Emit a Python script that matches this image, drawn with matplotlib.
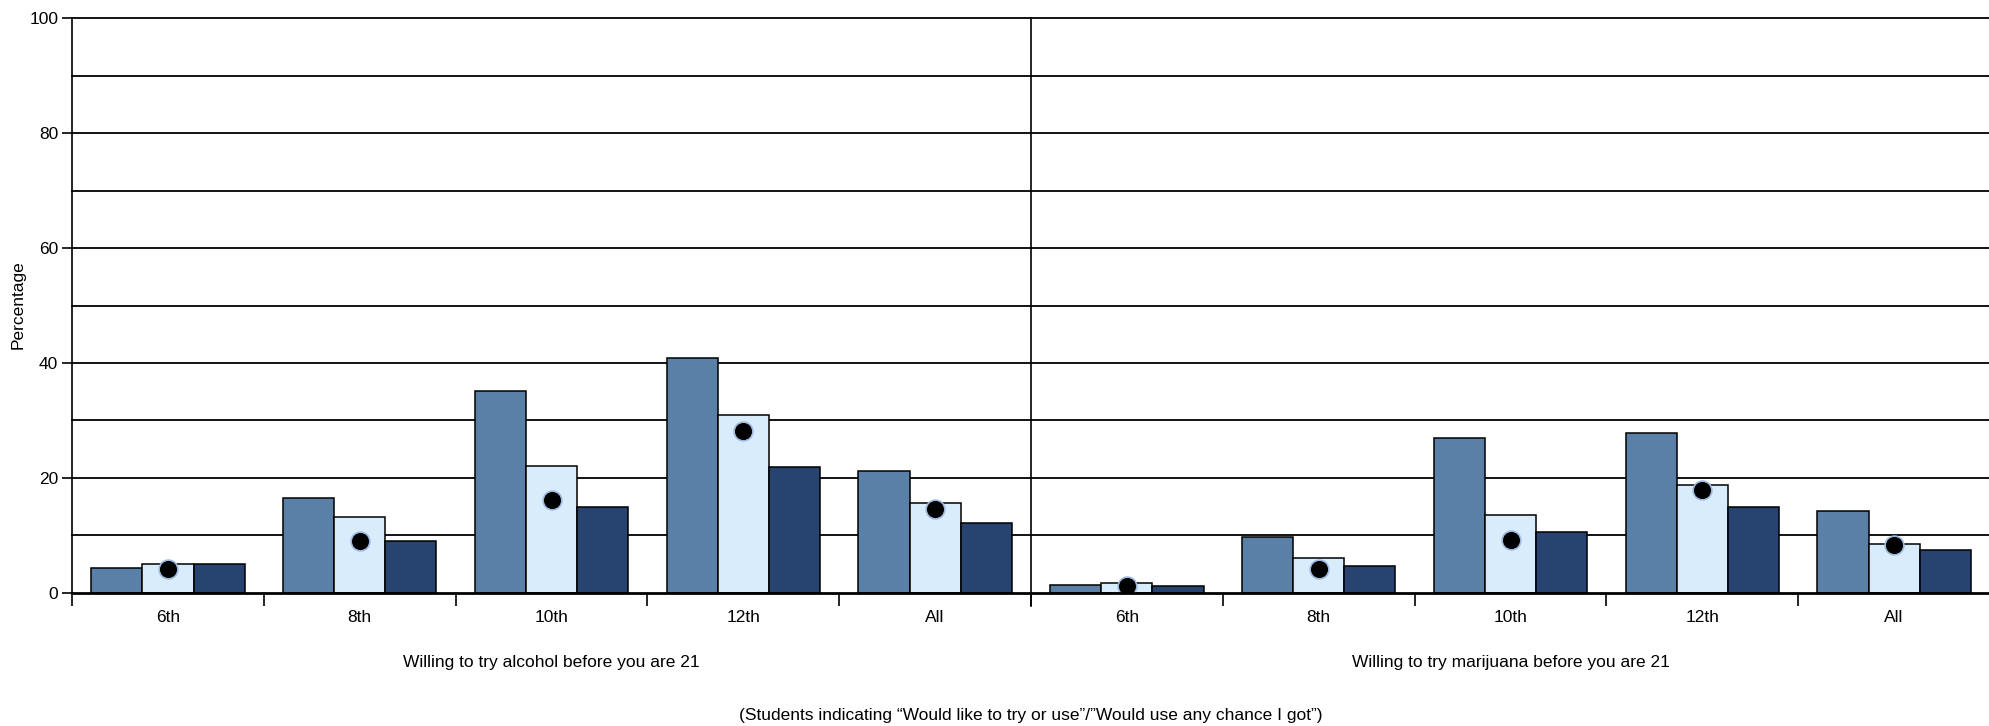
import matplotlib
matplotlib.use("Agg")
import matplotlib.pyplot as plt
import numpy as np

plt.rcParams['font.family'] = ['Liberation Sans Narrow', 'Liberation Sans', 'DejaVu Sans']

categories = ['6th', '8th', '10th', '12th', 'All']
panels = ['Willing to try alcohol before you are 21',
          'Willing to try marijuana before you are 21']
caption = '(Students indicating \u201cWould like to try or use\u201d/\u201dWould use any chance I got\u201d)'

alcohol_blue = [4.3, 16.5, 35.2, 40.8, 21.2]
alcohol_light = [5.0, 13.2, 22.1, 31.0, 15.7]
alcohol_dark = [5.0, 9.1, 15.0, 21.9, 12.1]
alcohol_dot = [4.2, 9.0, 16.1, 28.2, 14.6]

marijuana_blue = [1.4, 9.7, 26.9, 27.8, 14.2]
marijuana_light = [1.7, 6.1, 13.6, 18.7, 8.6]
marijuana_dark = [1.2, 4.7, 10.6, 15.0, 7.4]
marijuana_dot = [1.3, 4.2, 9.2, 17.9, 8.3]

yticks = [0, 20, 40, 60, 80, 100]

c_blue = '#5b80a8'
c_light = '#d9ecfc'
c_dark = '#26446f'

fs = 12.5

fig = plt.figure(figsize=(19.9, 7.26), dpi=100)
ax = fig.add_axes([0.0362, 0.1832, 0.9638, 0.7920])

blue = alcohol_blue + marijuana_blue
light = alcohol_light + marijuana_light
dark = alcohol_dark + marijuana_dark
dots = alcohol_dot + marijuana_dot
n = len(blue)
x = np.arange(n) + 0.5
w = 0.8 / 3

# gridlines
for g in range(10, 101, 10):
    ax.axhline(g, color='black', lw=1.3, zorder=1, clip_on=False)

ax.bar(x - w, blue, w, color=c_blue, edgecolor='black', lw=1.1, zorder=3)
ax.bar(x, light, w, color=c_light, edgecolor='black', lw=1.1, zorder=3)
ax.bar(x + w, dark, w, color=c_dark, edgecolor='black', lw=1.1, zorder=3)
ax.plot(x, dots, 'o', color='black', markersize=13.5, markeredgecolor='#9dbbe0',
        markeredgewidth=1.2, zorder=4, linestyle='none')

ax.set_xlim(0, n)
ax.set_ylim(0, 100)

# divider between panels
ax.plot([5, 5], [-2.2, 100], color='black', lw=1.2, clip_on=False, zorder=2)

for s in ['top', 'right']:
    ax.spines[s].set_visible(False)
ax.spines['left'].set_linewidth(1.2)
ax.spines['bottom'].set_linewidth(2)
ax.spines['bottom'].set_zorder(5)

ax.set_yticks(yticks)
ax.set_yticklabels([str(t) for t in yticks])
ax.tick_params(axis='y', length=7, width=1.2, labelsize=fs, pad=3)

ax.set_xticks(np.arange(0, n))
ax.set_xticklabels([])
ax.tick_params(axis='x', length=9, width=1.2)
ax.set_xticks(x, minor=True)
ax.set_xticklabels(categories * 2, minor=True)
ax.tick_params(axis='x', which='minor', length=0, labelsize=fs, pad=12)

fig.text(18 / 1990, 1 - 305 / 726, 'Percentage', rotation=90, ha='center',
         va='center', fontsize=fs)

for i, p in enumerate(panels):
    ax.text(2.5 + 5 * i, -0.121, p, transform=ax.get_xaxis_transform(),
            ha='center', va='center', fontsize=fs)

fig.text(0.518, 0.015, caption, ha='center', va='center', fontsize=fs)

fig.savefig('out.png', dpi=100)
